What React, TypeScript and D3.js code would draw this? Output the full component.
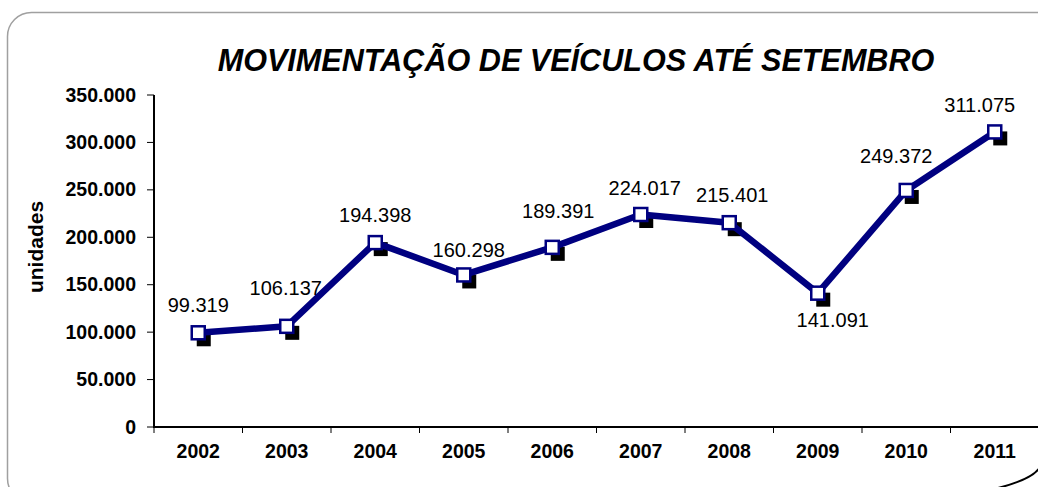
import { useEffect, useRef } from 'react';
import * as d3 from 'd3';

const years = ['2002', '2003', '2004', '2005', '2006', '2007', '2008', '2009', '2010', '2011'];
const vehicles = [99319, 106137, 194398, 160298, 189391, 224017, 215401, 141091, 249372, 311075];
const yTicks = [0, 50000, 100000, 150000, 200000, 250000, 300000, 350000];

// where each value label sits relative to its point (dx, dy of baseline)
const labelOffsets: [number, number][] = [
  [0, -21], [-1, -31], [0, -21], [5, -18], [6, -29],
  [4, -20], [3, -21], [15, 34], [-10, -27], [-15, -20],
];

const W = 1038;
const H = 487;

const fmt = (v: number) => d3.format(',')(v).replace(/,/g, '.');

export default function App() {
  const svgRef = useRef<SVGSVGElement>(null);

  useEffect(() => {
    if (!svgRef.current) return;
    const svg = d3.select(svgRef.current);
    svg.selectAll('*').remove();

    const margin = { left: 154, right: -1, top: 95, bottom: 60 };
    const x = d3.scaleBand<string>()
      .domain(years)
      .range([margin.left, W - margin.right]);
    const y = d3.scaleLinear()
      .domain([0, 350000])
      .range([H - margin.bottom, margin.top]);

    const font = 'Liberation Sans, Arial, sans-serif';

    // rounded frame
    svg.append('rect')
      .attr('x', 7.5).attr('y', 12.5)
      .attr('width', 1060).attr('height', 490)
      .attr('rx', 24)
      .attr('fill', 'white')
      .attr('stroke', '#a0a0a0')
      .attr('stroke-width', 1.5);
    svg.append('path')
      .attr('d', `M ${W - 40} ${H + 1} Q ${W - 5} ${H - 8} ${W + 2} ${H - 20}`)
      .attr('fill', 'none')
      .attr('stroke', '#000')
      .attr('stroke-width', 2);

    // title
    svg.append('text')
      .attr('x', 576).attr('y', 71)
      .attr('text-anchor', 'middle')
      .attr('font-family', font)
      .attr('font-size', 30.6)
      .attr('font-weight', 'bold')
      .attr('font-style', 'italic')
      .text('MOVIMENTAÇÃO DE VEÍCULOS ATÉ SETEMBRO');

    // y axis title
    svg.append('text')
      .attr('transform', 'translate(43,247) rotate(-90)')
      .attr('text-anchor', 'middle')
      .attr('font-family', font)
      .attr('font-size', 21)
      .attr('font-weight', 'bold')
      .text('unidades');

    // y axis
    const yAxis = svg.append('g');
    yAxis.append('line')
      .attr('x1', margin.left).attr('x2', margin.left)
      .attr('y1', y(350000)).attr('y2', y(0))
      .attr('stroke', '#000').attr('stroke-width', 2);
    yTicks.forEach(t => {
      yAxis.append('line')
        .attr('x1', margin.left - 7).attr('x2', margin.left)
        .attr('y1', y(t)).attr('y2', y(t))
        .attr('stroke', '#000').attr('stroke-width', 1);
      yAxis.append('text')
        .attr('x', 136).attr('y', y(t) + 6.5)
        .attr('text-anchor', 'end')
        .attr('font-family', font)
        .attr('font-size', 19.5)
        .attr('font-weight', 'bold')
        .text(fmt(t));
    });

    // x axis
    const xAxis = svg.append('g');
    xAxis.append('line')
      .attr('x1', margin.left - 1).attr('x2', W)
      .attr('y1', y(0)).attr('y2', y(0))
      .attr('stroke', '#000').attr('stroke-width', 2);
    years.forEach(yr => {
      xAxis.append('line')
        .attr('x1', x(yr)!).attr('x2', x(yr)!)
        .attr('y1', y(0)).attr('y2', y(0) + 6)
        .attr('stroke', '#000').attr('stroke-width', 1);
      xAxis.append('text')
        .attr('x', x(yr)! + x.bandwidth() / 2).attr('y', 458)
        .attr('text-anchor', 'middle')
        .attr('font-family', font)
        .attr('font-size', 19.5)
        .attr('font-weight', 'bold')
        .text(yr);
    });

    const cx = (i: number) => x(years[i])! + x.bandwidth() / 2;
    const cy = (i: number) => y(vehicles[i]);
    const size = 13;

    // marker shadows
    svg.append('g')
      .selectAll('rect')
      .data(vehicles)
      .join('rect')
      .attr('x', (_, i) => cx(i) - size / 2 + 5)
      .attr('y', (_, i) => cy(i) - size / 2 + 6)
      .attr('width', size + 1).attr('height', size + 1)
      .attr('fill', '#000');

    // line
    const line = d3.line<number>()
      .x((_, i) => cx(i))
      .y((_, i) => cy(i));
    svg.append('path')
      .datum(vehicles)
      .attr('d', line)
      .attr('fill', 'none')
      .attr('stroke', '#000080')
      .attr('stroke-width', 6.5)
      .attr('stroke-linejoin', 'round');

    // markers
    svg.append('g')
      .selectAll('rect')
      .data(vehicles)
      .join('rect')
      .attr('x', (_, i) => cx(i) - size / 2)
      .attr('y', (_, i) => cy(i) - size / 2)
      .attr('width', size).attr('height', size)
      .attr('fill', 'white')
      .attr('stroke', '#000080')
      .attr('stroke-width', 2.5);

    // value labels
    svg.append('g')
      .selectAll('text')
      .data(vehicles)
      .join('text')
      .attr('x', (_, i) => cx(i) + labelOffsets[i][0])
      .attr('y', (_, i) => cy(i) + labelOffsets[i][1])
      .attr('text-anchor', 'middle')
      .attr('font-family', font)
      .attr('font-size', 20)
      .attr('fill', '#000')
      .text(d => fmt(d));
  }, []);

  return (
    <svg
      ref={svgRef}
      width={W}
      height={H}
      style={{ position: 'fixed', left: 0, top: 0, background: 'white' }}
    />
  );
}
